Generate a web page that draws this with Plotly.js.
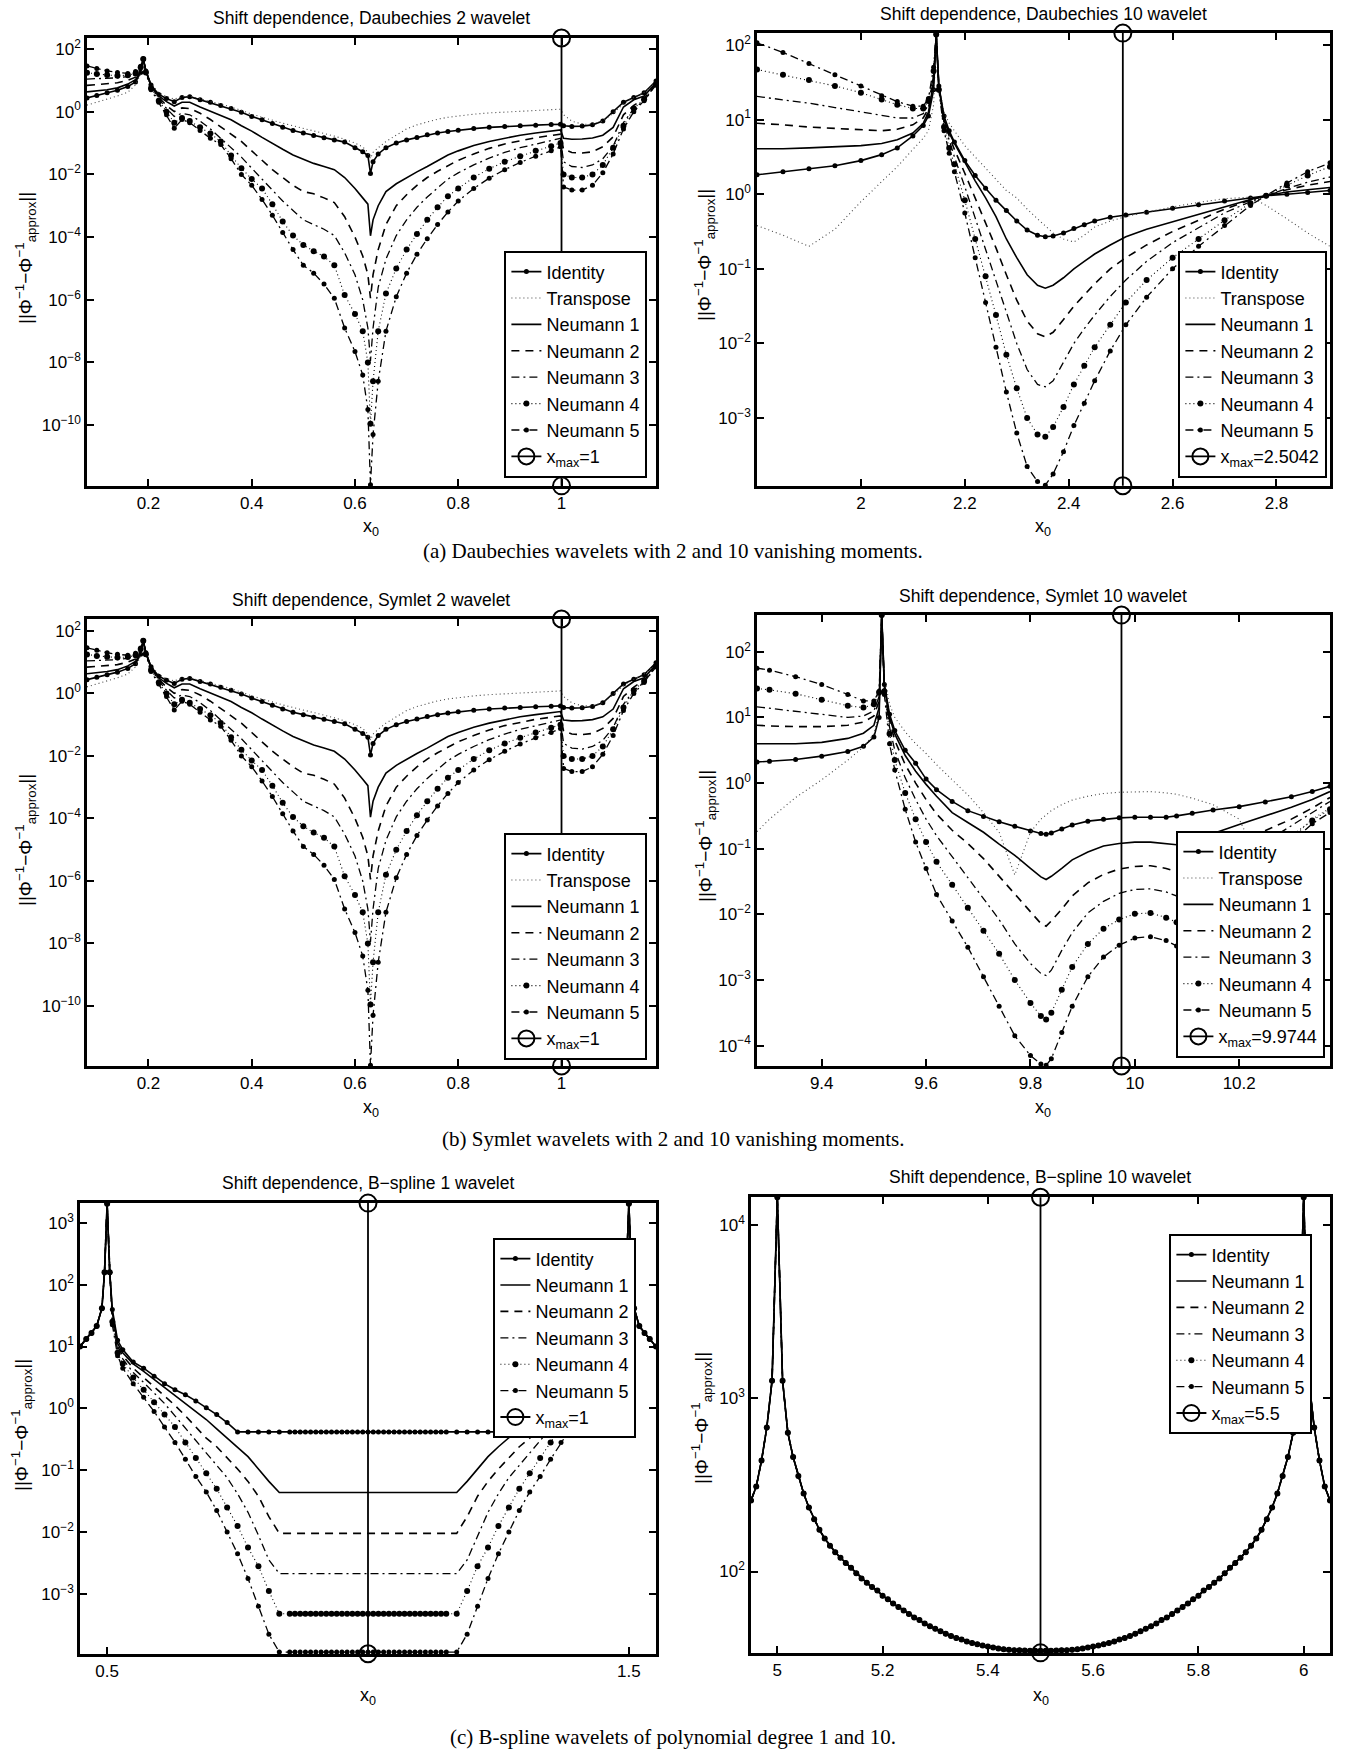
<!DOCTYPE html>
<html>
<head>
<meta charset="utf-8">
<script src="https://cdn.plot.ly/plotly-3.0.1.min.js"></script>
<style>html,body{margin:0;padding:0;background:#fff}#chart{width:1346px;height:1751px}</style>
</head>
<body>
<div id="chart"></div>
<script>
// ---------------- DATA ----------------
// (a) left: Daubechies 2
const db2_x = [0.081,0.10,0.12,0.14,0.16,0.175,0.185,0.19,0.195,0.205,0.22,0.235,0.25,0.265,0.28,0.30,0.32,0.34,0.36,0.38,0.40,0.42,0.44,0.46,0.48,0.50,0.52,0.54,0.56,0.58,0.60,0.615,0.625,0.63,0.635,0.645,0.66,0.68,0.70,0.72,0.74,0.76,0.78,0.80,0.83,0.86,0.89,0.92,0.95,0.98,0.998,1.004,1.02,1.04,1.06,1.08,1.10,1.12,1.14,1.16,1.183];
const db2_identity = [2.75,3.31,3.98,4.79,6.31,8.91,17.8,47.9,20.0,7.08,3.55,2.63,2.09,2.82,3.02,2.40,2.00,1.58,1.26,0.955,0.708,0.550,0.417,0.316,0.251,0.209,0.174,0.148,0.126,0.107,0.0708,0.0525,0.0398,0.0107,0.0251,0.0447,0.0708,0.100,0.126,0.151,0.182,0.209,0.234,0.257,0.288,0.316,0.339,0.355,0.372,0.389,0.398,0.355,0.339,0.347,0.380,0.501,1.00,2.00,2.82,3.98,9.55];
const db2_transpose = [1.62,2.00,2.51,3.16,4.17,7.08,15.8,39.8,20.0,7.94,3.98,3.02,2.51,3.02,3.16,2.51,2.09,1.78,1.41,1.10,0.832,0.661,0.525,0.427,0.355,0.295,0.240,0.200,0.166,0.132,0.100,0.0759,0.0501,0.0316,0.0501,0.0708,0.112,0.178,0.282,0.380,0.479,0.575,0.661,0.741,0.832,0.912,0.977,1.05,1.12,1.17,1.20,0.794,0.501,0.398,0.398,0.501,0.891,1.78,2.82,4.17,8.91];
const db2_n1 = [4.27,4.57,5.01,5.75,7.59,10.5,20.0,47.9,20.0,7.08,3.16,2.09,1.51,2.00,2.00,1.41,1.05,0.759,0.550,0.355,0.240,0.151,0.0955,0.0631,0.0417,0.0302,0.0224,0.0178,0.0141,0.00794,0.00355,0.00178,0.00112,0.00011,0.000355,0.00100,0.00282,0.00501,0.00794,0.0120,0.0178,0.0269,0.0417,0.0562,0.0832,0.112,0.145,0.178,0.209,0.240,0.263,0.141,0.132,0.135,0.145,0.178,0.316,1.41,2.40,3.16,8.32];
const db2_n2 = [6.92,7.24,7.59,8.32,10.0,12.6,22.4,47.9,20.0,6.61,2.82,1.58,1.00,1.32,1.26,0.891,0.562,0.331,0.191,0.112,0.0562,0.0282,0.0141,0.00794,0.00447,0.00282,0.00240,0.00178,0.00126,4.47e-4,1.0e-4,2.51e-5,6.31e-6,1.12e-6,6.31e-6,3.98e-5,2.51e-4,1.0e-3,2.24e-3,4.47e-3,7.94e-3,0.0126,0.0191,0.0282,0.0447,0.0676,0.0933,0.120,0.148,0.174,0.191,0.0631,0.0501,0.0479,0.0525,0.0759,0.158,0.794,1.58,2.63,7.94];
const db2_n3 = [11.0,11.2,11.5,12.0,13.2,15.8,25.1,47.9,20.0,6.31,2.51,1.26,0.708,0.891,0.794,0.501,0.282,0.141,0.0708,0.0355,0.0158,0.00708,0.00316,0.00141,7.08e-4,3.55e-4,2.51e-4,1.78e-4,1.12e-4,3.16e-5,6.31e-6,1.0e-6,1.26e-7,1.12e-8,1.26e-7,2.51e-6,2.0e-5,1.12e-4,3.55e-4,8.91e-4,1.91e-3,3.80e-3,7.08e-3,0.0112,0.0200,0.0331,0.0501,0.0708,0.0933,0.120,0.141,0.0251,0.0178,0.0166,0.0200,0.0316,0.0794,0.447,1.26,2.24,7.59];
const db2_n4 = [17.4,15.8,14.8,14.1,14.5,16.6,26.3,47.9,17.8,5.62,2.24,1.00,0.447,0.631,0.501,0.316,0.200,0.112,0.0398,0.0158,0.00708,0.00355,0.00112,3.16e-4,1.12e-4,5.62e-5,3.55e-5,2.40e-5,1.26e-5,1.41e-6,3.55e-7,1.0e-7,1.0e-8,1.12e-10,2.51e-9,1.0e-7,1.58e-6,1.0e-5,3.98e-5,1.26e-4,3.55e-4,8.91e-4,2.0e-3,3.55e-3,7.94e-3,0.0151,0.0251,0.0380,0.0562,0.0794,0.100,0.0100,0.00794,0.00794,0.0100,0.0200,0.0708,0.355,1.26,2.51,7.41];
const db2_n5 = [28.8,24.0,20.0,17.8,16.6,19.1,28.2,47.9,17.8,5.01,2.00,0.794,0.295,0.562,0.447,0.251,0.141,0.0891,0.0316,0.0100,0.00447,0.00158,5.01e-4,1.41e-4,3.98e-5,1.26e-5,7.08e-6,3.16e-6,1.12e-6,1.26e-7,2.24e-8,3.98e-9,3.16e-10,1.26e-12,5.01e-11,2.51e-9,1.0e-7,1.26e-6,7.08e-6,2.82e-5,8.91e-5,2.51e-4,6.31e-4,1.41e-3,3.55e-3,7.59e-3,0.0141,0.0240,0.0380,0.0562,0.0759,0.00398,0.00316,0.00316,0.00447,0.0112,0.0447,0.282,1.00,2.24,7.08];
const db2_xmax_x = [1, 1];
const db2_xmax_y = [1.16e-12, 223];

// (a) right: Daubechies 10
const db10_x = [1.80,1.85,1.90,1.95,2.00,2.04,2.07,2.10,2.12,2.13,2.14,2.145,2.15,2.16,2.17,2.18,2.20,2.22,2.24,2.26,2.28,2.30,2.32,2.34,2.355,2.37,2.39,2.41,2.43,2.45,2.48,2.51,2.55,2.60,2.65,2.70,2.75,2.78,2.82,2.86,2.903];
const db10_identity = [1.82,2.00,2.19,2.40,2.82,3.39,4.17,6.03,8.32,11.2,25.1,144,28.2,11.2,7.08,5.01,2.82,1.78,1.20,0.832,0.603,0.437,0.331,0.282,0.269,0.275,0.302,0.347,0.389,0.437,0.490,0.525,0.575,0.646,0.724,0.813,0.891,0.955,1.00,1.05,1.12];
const db10_transpose = [0.380,0.282,0.200,0.339,0.794,1.45,2.34,3.98,5.62,7.08,15.8,126,28.2,12.6,8.91,7.08,4.47,3.16,2.24,1.58,1.12,0.891,0.631,0.468,0.372,0.302,0.251,0.229,0.282,0.363,0.437,0.501,0.575,0.676,0.776,0.871,0.912,0.708,0.468,0.302,0.200];
const db10_n1 = [4.07,4.07,4.17,4.27,4.47,4.79,5.37,6.61,8.91,12.6,31.6,138,28.2,10.0,6.61,4.79,2.63,1.51,0.891,0.501,0.251,0.141,0.0832,0.0603,0.0550,0.0603,0.0759,0.100,0.126,0.158,0.209,0.269,0.339,0.427,0.537,0.676,0.851,0.955,1.07,1.15,1.23];
const db10_n2 = [8.91,8.51,7.94,7.59,7.24,7.08,7.41,8.51,10.5,14.1,35.5,138,28.2,9.55,6.03,3.98,1.91,0.891,0.417,0.191,0.0832,0.0380,0.0200,0.0135,0.0123,0.0141,0.0209,0.0316,0.0447,0.0631,0.100,0.141,0.209,0.316,0.447,0.631,0.832,0.955,1.15,1.32,1.48];
const db10_n3 = [20.4,18.6,16.6,14.5,12.6,11.2,10.5,10.5,12.0,15.8,39.8,138,28.2,8.91,5.25,3.16,1.26,0.479,0.178,0.0708,0.0251,0.0100,0.00447,0.00282,0.00263,0.00316,0.00562,0.0100,0.0158,0.0240,0.0427,0.0708,0.126,0.224,0.355,0.562,0.794,0.955,1.20,1.45,1.70];
const db10_n4 = [46.8,39.8,33.9,28.2,22.9,18.6,15.8,14.1,14.1,17.8,44.7,138,25.1,7.94,4.17,2.51,0.832,0.251,0.0794,0.0240,0.00708,0.00251,0.00100,6.03e-4,5.62e-4,7.59e-4,1.41e-3,2.82e-3,5.01e-3,8.91e-3,0.0178,0.0355,0.0708,0.141,0.251,0.447,0.759,0.955,1.32,1.78,2.34];
const db10_n5 = [107,79.4,56.2,39.8,28.2,20.9,17.4,15.1,15.1,19.1,50.1,138,25.1,7.08,3.55,2.00,0.562,0.141,0.0355,8.91e-3,2.24e-3,6.31e-4,2.24e-4,1.41e-4,1.26e-4,1.78e-4,3.55e-4,7.94e-4,1.58e-3,3.16e-3,7.94e-3,0.0178,0.0417,0.100,0.200,0.380,0.708,0.955,1.41,2.00,2.63];
const db10_xmax_x = [2.5042, 2.5042];
const db10_xmax_y = [1.24e-4, 144];

// (b) left: Symlet 2 (same filter as Daubechies 2 - the picture is identical)
const sym2_x = db2_x;
const sym2_identity = db2_identity;
const sym2_transpose = db2_transpose;
const sym2_n1 = db2_n1;
const sym2_n2 = db2_n2;
const sym2_n3 = db2_n3;
const sym2_n4 = db2_n4;
const sym2_n5 = db2_n5;
const sym2_xmax_x = [1, 1];
const sym2_xmax_y = [1.21e-12, 239];

// (b) right: Symlet 10
const sym10_x = [9.276,9.30,9.35,9.40,9.45,9.48,9.50,9.51,9.515,9.52,9.53,9.54,9.56,9.58,9.60,9.62,9.65,9.68,9.71,9.74,9.77,9.80,9.82,9.83,9.84,9.86,9.88,9.91,9.94,9.97,10.00,10.03,10.06,10.08,10.11,10.15,10.20,10.25,10.30,10.34,10.374];
const sym10_identity = [2.09,2.14,2.29,2.57,3.02,3.63,5.01,10.0,362,31.6,11.2,6.31,3.16,2.00,1.15,0.794,0.525,0.380,0.309,0.257,0.219,0.186,0.170,0.166,0.174,0.200,0.229,0.263,0.282,0.295,0.302,0.302,0.302,0.316,0.347,0.389,0.437,0.513,0.617,0.741,0.891];
const sym10_transpose = [0.182,0.282,0.603,1.12,2.24,3.55,5.62,12.6,316,39.8,15.8,10.0,6.03,3.98,2.82,1.91,1.12,0.661,0.355,0.178,0.0398,0.178,0.282,0.331,0.380,0.468,0.550,0.631,0.692,0.724,0.741,0.741,0.708,0.676,0.589,0.468,0.282,0.0398,0.141,0.282,0.417];
const sym10_n1 = [3.98,3.98,3.98,4.17,4.79,5.75,7.59,14.1,362,31.6,10.0,5.62,2.63,1.51,0.955,0.631,0.355,0.251,0.178,0.117,0.0794,0.0501,0.0372,0.0339,0.0380,0.0501,0.0676,0.0891,0.110,0.120,0.126,0.126,0.120,0.115,0.135,0.170,0.234,0.316,0.427,0.562,0.741];
const sym10_n2 = [7.59,7.41,7.24,7.24,7.59,8.51,10.5,17.8,362,31.6,8.91,4.47,1.91,1.00,0.562,0.339,0.191,0.120,0.0708,0.0380,0.0209,0.0112,0.00724,0.00661,0.00794,0.0120,0.0191,0.0302,0.0407,0.0490,0.0537,0.0550,0.0501,0.0447,0.0603,0.0851,0.126,0.191,0.282,0.417,0.603];
const sym10_n3 = [14.5,13.8,12.3,11.0,10.0,10.5,12.6,20.9,362,28.2,7.08,3.16,1.20,0.562,0.282,0.158,0.0759,0.0355,0.0178,0.00832,0.00355,0.00178,0.00126,0.00117,0.00141,0.00282,0.00525,0.0105,0.0158,0.0209,0.0240,0.0245,0.0219,0.0191,0.0282,0.0447,0.0759,0.126,0.224,0.355,0.525];
const sym10_n4 = [27.5,26.3,22.9,18.6,15.1,14.1,15.8,24.0,362,25.1,5.62,2.24,0.708,0.282,0.126,0.0631,0.0282,0.0126,0.00562,0.00251,0.00100,4.47e-4,2.82e-4,2.51e-4,3.16e-4,7.08e-4,1.58e-3,3.55e-3,6.03e-3,8.32e-3,0.0102,0.0105,0.00891,0.00759,0.0105,0.0200,0.0447,0.0851,0.158,0.269,0.398];
const sym10_n5 = [56.2,52.5,41.7,31.6,22.4,17.8,17.8,25.1,362,22.4,3.98,1.58,0.398,0.126,0.0501,0.0200,0.00794,0.00316,0.00112,3.98e-4,1.41e-4,7.08e-5,5.25e-5,5.01e-5,6.31e-5,1.58e-4,3.98e-4,1.12e-3,2.24e-3,3.39e-3,4.37e-3,4.57e-3,3.98e-3,3.31e-3,5.01e-3,0.0112,0.0316,0.0631,0.126,0.240,0.355];
const sym10_xmax_x = [9.9744, 9.9744];
const sym10_xmax_y = [4.91e-5, 362];

// (c) left: B-spline 1
const bs1_x = [0.448,0.46,0.47,0.48,0.49,0.495,0.5,0.505,0.51,0.52,0.53,0.55,0.57,0.59,0.61,0.63,0.65,0.67,0.69,0.71,0.73,0.75,0.77,0.79,0.81,0.83,
  0.85,0.86,0.87,0.88,0.89,0.90,0.91,0.92,0.93,0.94,0.95,0.96,0.97,0.98,0.99,1.00,1.01,1.02,1.03,1.04,1.05,1.06,1.07,1.08,1.09,1.10,1.11,1.12,1.13,1.14,1.15,
  1.17,1.19,1.21,1.23,1.25,1.27,1.29,1.31,1.33,1.35,1.37,1.39,1.41,1.43,1.45,1.47,1.48,1.49,1.495,1.5,1.505,1.51,1.52,1.53,1.54,1.552];
const bs1_identity = [10.0,13.2,16.6,21.4,41.7,158,2040,158,39.8,12.6,8.91,5.62,4.47,3.31,2.51,2.00,1.66,1.32,1.02,0.794,0.589,0.417,0.417,0.417,0.417,0.417,
  0.417,0.417,0.417,0.417,0.417,0.417,0.417,0.417,0.417,0.417,0.417,0.417,0.417,0.417,0.417,0.417,0.417,0.417,0.417,0.417,0.417,0.417,0.417,0.417,0.417,0.417,0.417,0.417,0.417,0.417,0.417,
  0.417,0.417,0.417,0.417,0.417,0.589,0.794,1.02,1.32,1.66,2.00,2.51,3.31,4.47,5.62,8.91,12.6,39.8,158,2040,158,41.7,21.4,16.6,13.2,10.0];
const bs1_n1 = [10.0,13.2,16.6,21.4,41.7,158,2040,158,35.5,11.2,7.94,5.25,3.98,2.95,2.14,1.58,1.20,0.891,0.661,0.468,0.331,0.240,0.166,0.105,0.0661,0.0437,
  0.0437,0.0437,0.0437,0.0437,0.0437,0.0437,0.0437,0.0437,0.0437,0.0437,0.0437,0.0437,0.0437,0.0437,0.0437,0.0437,0.0437,0.0437,0.0437,0.0437,0.0437,0.0437,0.0437,0.0437,0.0437,0.0437,0.0437,0.0437,0.0437,0.0437,0.0437,
  0.0437,0.0661,0.105,0.166,0.240,0.331,0.468,0.661,0.891,1.20,1.58,2.14,2.95,3.98,5.25,7.94,11.2,35.5,158,2040,158,41.7,21.4,16.6,13.2,10.0];
const bs1_n2 = [10.0,13.2,16.6,21.4,41.7,158,2040,158,31.6,10.0,7.08,4.47,3.16,2.24,1.58,1.12,0.759,0.501,0.331,0.240,0.158,0.105,0.0661,0.0380,0.0178,0.00955,
  0.00955,0.00955,0.00955,0.00955,0.00955,0.00955,0.00955,0.00955,0.00955,0.00955,0.00955,0.00955,0.00955,0.00955,0.00955,0.00955,0.00955,0.00955,0.00955,0.00955,0.00955,0.00955,0.00955,0.00955,0.00955,0.00955,0.00955,0.00955,0.00955,0.00955,0.00955,
  0.00955,0.0178,0.0380,0.0661,0.105,0.158,0.240,0.331,0.501,0.759,1.12,1.58,2.24,3.16,4.47,7.08,10.0,31.6,158,2040,158,41.7,21.4,16.6,13.2,10.0];
const bs1_n3 = [10.0,13.2,16.6,21.4,41.7,158,2040,158,28.2,8.91,6.31,3.80,2.63,1.78,1.20,0.759,0.479,0.302,0.191,0.120,0.0759,0.0417,0.0209,0.00891,0.00355,0.00214,
  0.00214,0.00214,0.00214,0.00214,0.00214,0.00214,0.00214,0.00214,0.00214,0.00214,0.00214,0.00214,0.00214,0.00214,0.00214,0.00214,0.00214,0.00214,0.00214,0.00214,0.00214,0.00214,0.00214,0.00214,0.00214,0.00214,0.00214,0.00214,0.00214,0.00214,0.00214,
  0.00214,0.00355,0.00891,0.0209,0.0417,0.0759,0.120,0.191,0.302,0.479,0.759,1.20,1.78,2.63,3.80,6.31,8.91,28.2,158,2040,158,41.7,21.4,16.6,13.2,10.0];
const bs1_n4 = [10.0,13.2,16.6,21.4,41.7,158,2040,158,25.1,7.94,5.25,3.16,2.00,1.26,0.794,0.501,0.282,0.158,0.0891,0.0501,0.0251,0.0126,0.00562,0.00282,0.00112,4.79e-4,
  4.79e-4,4.79e-4,4.79e-4,4.79e-4,4.79e-4,4.79e-4,4.79e-4,4.79e-4,4.79e-4,4.79e-4,4.79e-4,4.79e-4,4.79e-4,4.79e-4,4.79e-4,4.79e-4,4.79e-4,4.79e-4,4.79e-4,4.79e-4,4.79e-4,4.79e-4,4.79e-4,4.79e-4,4.79e-4,4.79e-4,4.79e-4,4.79e-4,4.79e-4,4.79e-4,4.79e-4,
  4.79e-4,0.00112,0.00282,0.00562,0.0126,0.0251,0.0501,0.0891,0.158,0.282,0.501,0.794,1.26,2.00,3.16,5.25,7.94,25.1,158,2040,158,41.7,21.4,16.6,13.2,10.0];
const bs1_n5 = [10.0,13.2,16.6,21.4,41.7,158,2040,158,22.4,7.08,4.47,2.51,1.51,0.891,0.501,0.282,0.151,0.0794,0.0447,0.0224,0.0100,0.00447,0.00178,6.31e-4,2.24e-4,1.15e-4,
  1.15e-4,1.15e-4,1.15e-4,1.15e-4,1.15e-4,1.15e-4,1.15e-4,1.15e-4,1.15e-4,1.15e-4,1.15e-4,1.15e-4,1.15e-4,1.15e-4,1.15e-4,1.15e-4,1.15e-4,1.15e-4,1.15e-4,1.15e-4,1.15e-4,1.15e-4,1.15e-4,1.15e-4,1.15e-4,1.15e-4,1.15e-4,1.15e-4,1.15e-4,1.15e-4,1.15e-4,
  1.15e-4,2.24e-4,6.31e-4,0.00178,0.00447,0.0100,0.0224,0.0447,0.0794,0.151,0.282,0.501,0.891,1.51,2.51,4.47,7.08,22.4,158,2040,158,41.7,21.4,16.6,13.2,10.0];
const bs1_xmax_x = [1, 1];
const bs1_xmax_y = [1.08e-4, 2080];

// (c) right: B-spline 10 (all six curves coincide in the picture)
const bs10_x = [4.95,4.96,4.97,4.98,4.99,5.00,5.01,5.02,5.03,5.04,5.05,5.06,5.07,5.08,5.09,5.10,5.11,5.12,5.13,5.14,5.15,5.16,5.17,5.18,5.19,5.20,5.21,5.22,5.23,5.24,5.25,5.26,5.27,5.28,5.29,5.30,5.31,5.32,5.33,5.34,5.35,5.36,5.37,5.38,5.39,5.40,5.41,5.42,5.43,5.44,5.45,5.46,5.47,5.48,5.49,5.50,
  5.51,5.52,5.53,5.54,5.55,5.56,5.57,5.58,5.59,5.60,5.61,5.62,5.63,5.64,5.65,5.66,5.67,5.68,5.69,5.70,5.71,5.72,5.73,5.74,5.75,5.76,5.77,5.78,5.79,5.80,5.81,5.82,5.83,5.84,5.85,5.86,5.87,5.88,5.89,5.90,5.91,5.92,5.93,5.94,5.95,5.96,5.97,5.98,5.99,6.00,6.01,6.02,6.03,6.04,6.05];
const bs10_identity = [257,309,437,676,1259,14400,1259,631,457,355,282,234,200,174,155,141,129,120,112,105,97.7,91.2,86.1,81.3,77.6,72.4,69.2,65.3,62.4,59.6,56.9,54.3,52.5,50.1,48.4,46.8,45.2,43.7,42.5,41.4,40.5,39.5,38.7,38.0,37.4,36.9,36.4,36.0,35.6,35.4,35.2,35.1,35.0,34.9,34.9,34.9,
  34.9,34.9,35.0,35.1,35.2,35.4,35.6,36.0,36.4,36.9,37.4,38.0,38.7,39.5,40.5,41.4,42.5,43.7,45.2,46.8,48.4,50.1,52.5,54.3,56.9,59.6,62.4,65.3,69.2,72.4,77.6,81.3,86.1,91.2,97.7,105,112,120,129,141,155,174,200,234,282,355,457,631,1259,14400,1259,676,437,309,257];
const bs10_neumann = bs10_identity;
const bs10_xmax_x = [5.5, 5.5];
const bs10_xmax_y = [33.95, 14400];

// tick labels
const db2_xticks = [0.2,0.4,0.6,0.8,1];
const db10_xticks = [2,2.2,2.4,2.6,2.8];
const sym10_xticks = [9.4,9.6,9.8,10,10.2];
const bs1_xticks = [0.5,1.5];
const bs10_xticks = [5,5.2,5.4,5.6,5.8,6];
const exp2 = [-10,-8,-6,-4,-2,0,2];
const expDb10 = [-3,-2,-1,0,1,2];
const expSym10 = [-4,-3,-2,-1,0,1,2];
const expBs1 = [-3,-2,-1,0,1,2,3];
const expBs10 = [2,3,4];

// ---------------- LAYOUT / STYLE ----------------
const W = 1346, H = 1751;
const SANS = 'Liberation Sans, Arial, Helvetica, sans-serif';
const SERIF = 'Liberation Serif, Times New Roman, serif';
const PX = v => v / W;
const PY = v => 1 - v / H;
const MINUS = '\u2212';
const supLabel = e => '10<sup>' + (e < 0 ? MINUS + (-e) : String(e)) + '</sup>';

const STYLE = {
  identity: {mode:'lines+markers', line:{color:'#000', width:1.6}, marker:{symbol:'circle', size:5, color:'#000'}},
  transpose:{mode:'lines', line:{color:'#444', width:1.1, dash:'1px,3px'}},
  n1:{mode:'lines', line:{color:'#000', width:1.6}},
  n2:{mode:'lines', line:{color:'#000', width:1.6, dash:'8px,6px'}},
  n3:{mode:'lines', line:{color:'#000', width:1.3, dash:'8px,4px,2px,4px'}},
  n4:{mode:'lines+markers', line:{color:'#000', width:1.1, dash:'1px,3px'}, marker:{symbol:'circle', size:6, color:'#000'}},
  n5:{mode:'lines+markers', line:{color:'#000', width:1.3, dash:'8px,4px,2px,4px'}, marker:{symbol:'circle', size:5, color:'#000'}},
  xmax:{mode:'lines+markers', line:{color:'#000', width:1.8}, marker:{symbol:'circle-open', size:17, color:'#000', line:{width:2, color:'#000'}}, cliponaxis:false}
};
const NAMES = {identity:'Identity', transpose:'Transpose', n1:'Neumann 1', n2:'Neumann 2', n3:'Neumann 3', n4:'Neumann 4', n5:'Neumann 5'};

const panels = [
  {box:[87,656,38,486], xr:[0.081,1.183], yr:[-11.94,2.35], xt:db2_xticks, ye:exp2,
   title:'Shift dependence, Daubechies 2 wavelet', tpos:[371,18], xl:[371,527], yl:[25,258],
   leg:{x:647, y:478, xa:'right', ya:'bottom'},
   x:db2_x, s:{identity:db2_identity, transpose:db2_transpose, n1:db2_n1, n2:db2_n2, n3:db2_n3, n4:db2_n4, n5:db2_n5},
   xm:db2_xmax_x, ym:db2_xmax_y, xmName:'x<sub>max</sub>=1'},
  {box:[757,1330,33,486], xr:[1.80,2.903], yr:[-3.91,2.16], xt:db10_xticks, ye:expDb10,
   title:'Shift dependence, Daubechies 10 wavelet', tpos:[1043,14], xl:[1043,527], yl:[705,255],
   leg:{x:1327, y:478, xa:'right', ya:'bottom'},
   x:db10_x, s:{identity:db10_identity, transpose:db10_transpose, n1:db10_n1, n2:db10_n2, n3:db10_n3, n4:db10_n4, n5:db10_n5},
   xm:db10_xmax_x, ym:db10_xmax_y, xmName:'x<sub>max</sub>=2.5042'},
  {box:[87,656,619,1066], xr:[0.081,1.183], yr:[-11.92,2.38], xt:db2_xticks, ye:exp2,
   title:'Shift dependence, Symlet 2 wavelet', tpos:[371,600], xl:[371,1108], yl:[25,840],
   leg:{x:647, y:1060, xa:'right', ya:'bottom'},
   x:sym2_x, s:{identity:sym2_identity, transpose:sym2_transpose, n1:sym2_n1, n2:sym2_n2, n3:sym2_n3, n4:sym2_n4, n5:sym2_n5},
   xm:sym2_xmax_x, ym:sym2_xmax_y, xmName:'x<sub>max</sub>=1'},
  {box:[757,1330,615,1066], xr:[9.276,10.374], yr:[-4.31,2.56], xt:sym10_xticks, ye:expSym10,
   title:'Shift dependence, Symlet 10 wavelet', tpos:[1043,596], xl:[1043,1108], yl:[705,836],
   leg:{x:1325, y:1058, xa:'right', ya:'bottom'},
   x:sym10_x, s:{identity:sym10_identity, transpose:sym10_transpose, n1:sym10_n1, n2:sym10_n2, n3:sym10_n3, n4:sym10_n4, n5:sym10_n5},
   xm:sym10_xmax_x, ym:sym10_xmax_y, xmName:'x<sub>max</sub>=9.9744'},
  {box:[80,656,1203,1654], xr:[0.448,1.552], yr:[-3.97,3.32], xt:bs1_xticks, ye:expBs1,
   title:'Shift dependence, B\u2212spline 1 wavelet', tpos:[368,1183], xl:[368,1696], yl:[21,1425],
   leg:{x:636, y:1238, xa:'right', ya:'top'},
   x:bs1_x, s:{identity:bs1_identity, n1:bs1_n1, n2:bs1_n2, n3:bs1_n3, n4:bs1_n4, n5:bs1_n5},
   xm:bs1_xmax_x, ym:bs1_xmax_y, xmName:'x<sub>max</sub>=1'},
  {box:[751,1330,1197,1653], xr:[4.95,6.05], yr:[1.53,4.16], xt:bs10_xticks, ye:expBs10,
   title:'Shift dependence, B\u2212spline 10 wavelet', tpos:[1040,1177], xl:[1041,1696], yl:[701,1418],
   leg:{x:1312, y:1234, xa:'right', ya:'top'},
   x:bs10_x, s:{identity:bs10_identity, n1:bs10_neumann, n2:bs10_neumann, n3:bs10_neumann, n4:bs10_neumann, n5:bs10_neumann},
   xm:bs10_xmax_x, ym:bs10_xmax_y, xmName:'x<sub>max</sub>=5.5'}
];

const traces = [];
const layout = {
  width: W, height: H, autosize: false,
  margin: {l:0, r:0, t:0, b:0, pad:0},
  paper_bgcolor: '#fff', plot_bgcolor: '#fff',
  showlegend: true,
  font: {family: SANS, size: 17, color: '#000'},
  annotations: []
};

panels.forEach((p, i) => {
  const n = i + 1;
  const xs = n === 1 ? '' : String(n);
  const xref = 'x' + xs, yref = 'y' + xs;
  const legId = 'legend' + xs;
  const [L, R, T, B] = p.box;
  const axisCommon = {
    showline:true, linewidth:2.6, linecolor:'#000', mirror:'ticks',
    ticks:'inside', ticklen:7, tickwidth:1.5, tickcolor:'#000',
    showgrid:false, zeroline:false, fixedrange:true,
    tickfont:{family:SANS, size:17, color:'#000'}
  };
  layout['xaxis' + xs] = Object.assign({}, axisCommon, {
    domain:[PX(L), PX(R)], range:p.xr, anchor:yref,
    tickmode:'array', tickvals:p.xt, ticktext:p.xt.map(String)
  });
  layout['yaxis' + xs] = Object.assign({}, axisCommon, {
    type:'log', domain:[PY(B), PY(T)], range:p.yr, anchor:xref,
    tickmode:'array', tickvals:p.ye.map(e => Math.pow(10, e)), ticktext:p.ye.map(supLabel)
  });
  layout[legId] = {
    x:PX(p.leg.x), y:PY(p.leg.y), xanchor:p.leg.xa, yanchor:p.leg.ya, xref:'paper', yref:'paper',
    bgcolor:'#fff', bordercolor:'#000', borderwidth:2.4,
    font:{family:SANS, size:18, color:'#000'}, tracegroupgap:0, itemwidth:30, traceorder:'normal'
  };
  Object.keys(p.s).forEach(k => {
    traces.push(Object.assign({}, JSON.parse(JSON.stringify(STYLE[k])), {
      type:'scatter', x:p.x, y:p.s[k], name:NAMES[k], xaxis:xref, yaxis:yref, legend:legId, showlegend:true
    }));
  });
  traces.push(Object.assign({}, JSON.parse(JSON.stringify(STYLE.xmax)), {
    type:'scatter', x:p.xm, y:p.ym, name:p.xmName, xaxis:xref, yaxis:yref, legend:legId, showlegend:true
  }));
  layout.annotations.push({text:p.title, xref:'paper', yref:'paper', x:PX(p.tpos[0]), y:PY(p.tpos[1]),
    xanchor:'center', yanchor:'middle', showarrow:false, font:{family:SANS, size:17.5, color:'#000'}});
  layout.annotations.push({text:'x<sub>0</sub>', xref:'paper', yref:'paper', x:PX(p.xl[0]), y:PY(p.xl[1]),
    xanchor:'center', yanchor:'middle', showarrow:false, font:{family:SANS, size:18, color:'#000'}});
  layout.annotations.push({text:'||\u03A6<sup>' + MINUS + '1</sup>' + MINUS + '\u03A6<sup>' + MINUS + '1</sup><sub>approx</sub>||',
    xref:'paper', yref:'paper', x:PX(p.yl[0]), y:PY(p.yl[1]), textangle:-90,
    xanchor:'center', yanchor:'middle', showarrow:false, font:{family:SANS, size:19, color:'#000'}});
});

const captions = [
  ['(a) Daubechies wavelets with 2 and 10 vanishing moments.', 551],
  ['(b) Symlet wavelets with 2 and 10 vanishing moments.', 1139],
  ['(c) B-spline wavelets of polynomial degree 1 and 10.', 1737]
];
captions.forEach(c => layout.annotations.push({text:c[0], xref:'paper', yref:'paper', x:PX(673), y:PY(c[1]),
  xanchor:'center', yanchor:'middle', showarrow:false, font:{family:SERIF, size:21, color:'#000'}}));

Plotly.newPlot('chart', traces, layout, {displayModeBar:false}).then(gd => {
  // expose the font size of every text element as an explicit attribute too
  gd.querySelectorAll('text, tspan').forEach(t => {
    const fs = t.style.fontSize || window.getComputedStyle(t).fontSize;
    if (fs) t.setAttribute('font-size', fs);
  });
});
</script>
</body>
</html>
